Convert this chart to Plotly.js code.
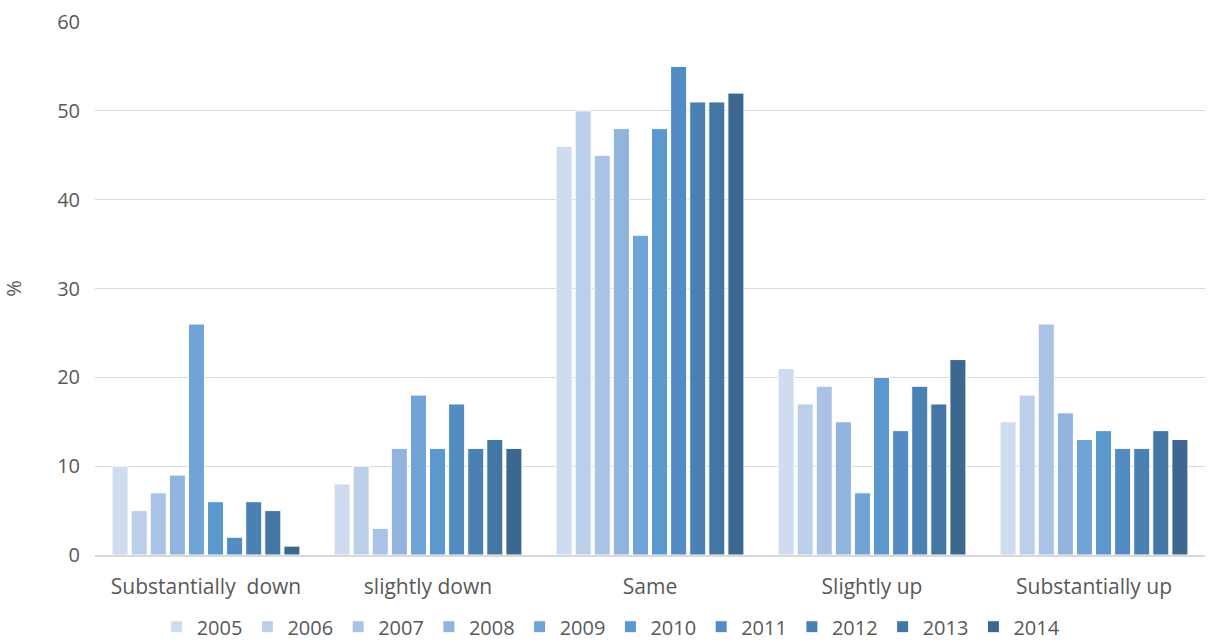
<!DOCTYPE html>
<html>
<head>
<meta charset="utf-8">
<script src="https://cdn.plot.ly/plotly-3.0.1.min.js"></script>
<style>
  html, body { margin: 0; padding: 0; background: #fff; }
  #chart { width: 1210px; height: 642px; }
</style>
</head>
<body>
<div id="chart"></div>
<script>
// Expectation categories (x axis)
const categories = ['Substantially\u00a0\u00a0down', 'slightly down', 'Same', 'Slightly up', 'Substantially up'];

// Survey years (one series each)
const years = ['2005', '2006', '2007', '2008', '2009', '2010', '2011', '2012', '2013', '2014'];

// Share of respondents (%) per category, one array per year
const v2005 = [10, 8, 46, 21, 15];
const v2006 = [5, 10, 50, 17, 18];
const v2007 = [7, 3, 45, 19, 26];
const v2008 = [9, 12, 48, 15, 16];
const v2009 = [26, 18, 36, 7, 13];
const v2010 = [6, 12, 48, 20, 14];
const v2011 = [2, 17, 55, 14, 12];
const v2012 = [6, 12, 51, 19, 12];
const v2013 = [5, 13, 51, 17, 14];
const v2014 = [1, 12, 52, 22, 13];

const seriesValues = [v2005, v2006, v2007, v2008, v2009, v2010, v2011, v2012, v2013, v2014];

const colors = ['#cfdbee', '#bccfe9', '#a9c2e5', '#91b4de', '#70a4d7',
                '#5a98cd', '#538cc2', '#4b80b2', '#4476a5', '#3c678f'];

const traces = years.map((y, i) => ({
  type: 'bar',
  name: y,
  x: categories,
  y: seriesValues[i],
  marker: { color: colors[i], line: { color: '#ffffff', width: 1 } },
  hoverinfo: 'x+y+name'
}));

const layout = {
  width: 1210,
  height: 642,
  margin: { l: 95, r: 5, t: 22, b: 87, autoexpand: false },
  paper_bgcolor: '#ffffff',
  plot_bgcolor: '#ffffff',
  barmode: 'group',
  bargap: 0.14,
  bargroupgap: 0.16,
  font: { family: 'Open Sans, Liberation Sans, sans-serif', color: '#595959', size: 20 },
  xaxis: {
    type: 'category',
    showgrid: false,
    showline: true,
    linecolor: '#d9d9d9',
    linewidth: 1.5,
    ticks: '',
    tickfont: { size: 21, color: '#595959' },
    ticklabelstandoff: 12
  },
  yaxis: {
    range: [0, 60],
    tickvals: [0, 10, 20, 30, 40, 50, 60],
    showgrid: true,
    gridcolor: '#d9d9d9',
    gridwidth: 1.3,
    zeroline: false,
    showline: false,
    ticks: '',
    ticklabelstandoff: 14,
    tickfont: { size: 20, color: '#595959' },
    title: { text: '%', font: { size: 20, color: '#595959' }, standoff: 32 }
  },
  legend: {
    orientation: 'h',
    x: 0.465,
    xanchor: 'center',
    y: -0.098,
    yanchor: 'top',
    font: { size: 20, color: '#595959' },
    itemwidth: 30,
    tracegroupgap: 0,
    traceorder: 'normal'
  },
  showlegend: true
};

Plotly.newPlot('chart', traces, layout, { displayModeBar: false, staticPlot: true });
</script>
</body>
</html>
